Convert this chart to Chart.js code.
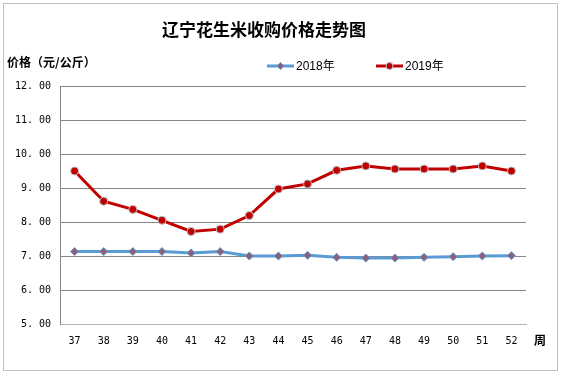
<!DOCTYPE html>
<html>
<head>
<meta charset="utf-8">
<script src="https://cdn.jsdelivr.net/npm/chart.js@4/dist/chart.umd.min.js"></script>
<style>
html,body{margin:0;padding:0;background:#fff;}
#wrap{width:562px;height:374px;position:relative;}
</style>
</head>
<body>
<div id="wrap"><canvas id="c" width="562" height="374"></canvas></div>
<script>
const weeks = ['37','38','39','40','41','42','43','44','45','46','47','48','49','50','51','52'];
const price2018 = [7.13,7.13,7.13,7.13,7.09,7.13,7.00,7.00,7.02,6.96,6.94,6.94,6.96,6.98,7.00,7.01];
const price2019 = [9.50,8.61,8.37,8.05,7.72,7.79,8.19,8.97,9.12,9.52,9.65,9.56,9.56,9.56,9.65,9.50];
const seriesNames = ['2018年','2019年'];
const titleText = '辽宁花生米收购价格走势图';
const yAxisName = '价格（元/公斤）';
const xAxisName = '周';

const mono = '"DejaVu Sans Mono", "Liberation Mono", monospace';
const cjk = '"Noto Sans CJK SC", "Noto Sans", sans-serif';

const decor = {
  id: 'decor',
  beforeDraw(chart) {
    const ctx = chart.ctx;
    ctx.save();
    ctx.fillStyle = '#fff';
    ctx.fillRect(0, 0, chart.width, chart.height);
    ctx.strokeStyle = '#bfbfbf';
    ctx.lineWidth = 1;
    ctx.strokeRect(3.5, 3.5, 554, 367);
    ctx.restore();
  },
  afterDraw(chart) {
    const ctx = chart.ctx;
    ctx.save();
    ctx.fillStyle = '#000';
    ctx.textBaseline = 'middle';
    ctx.textAlign = 'center';
    ctx.font = 'bold 17px ' + cjk;
    ctx.fillText(titleText, 264, 30);
    ctx.textAlign = 'left';
    ctx.font = 'bold 12px ' + cjk;
    ctx.fillText(yAxisName, 7, 62);
    ctx.fillText(xAxisName, 534, 340);
    // legend
    const items = [{x: 267, ds: chart.data.datasets[0]}, {x: 376, ds: chart.data.datasets[1]}];
    items.forEach(it => {
      const y = 66;
      ctx.strokeStyle = it.ds.borderColor;
      ctx.lineWidth = 3;
      ctx.beginPath();
      ctx.moveTo(it.x, y);
      ctx.lineTo(it.x + 27, y);
      ctx.stroke();
      const cx = it.x + 13.5;
      ctx.fillStyle = it.ds.pointBackgroundColor;
      ctx.strokeStyle = it.ds.pointBorderColor;
      ctx.lineWidth = 1;
      ctx.beginPath();
      if (it.ds.pointStyle === 'rectRot') {
        const r = 3.5;
        ctx.moveTo(cx, y - r); ctx.lineTo(cx + r, y); ctx.lineTo(cx, y + r); ctx.lineTo(cx - r, y); ctx.closePath();
      } else {
        ctx.arc(cx, y, 3.5, 0, Math.PI * 2);
      }
      ctx.fill(); ctx.stroke();
      ctx.fillStyle = '#000';
      ctx.font = '12px "Liberation Sans", ' + cjk;
      ctx.textAlign = 'left';
      ctx.fillText(it.ds.label, it.x + 29, y + 1);
    });
    ctx.restore();
  }
};

new Chart(document.getElementById('c'), {
  type: 'line',
  data: {
    labels: weeks,
    datasets: [
      {
        label: seriesNames[0],
        data: price2018,
        borderColor: '#5B9BD5',
        borderWidth: 3,
        pointStyle: 'rectRot',
        pointRadius: 4,
        pointBackgroundColor: '#8E5F75',
        pointBorderColor: '#5B9BD5',
        pointBorderWidth: 1,
        tension: 0,
        fill: false
      },
      {
        label: seriesNames[1],
        data: price2019,
        borderColor: '#C00000',
        borderWidth: 3,
        pointStyle: 'circle',
        pointRadius: 4,
        pointBackgroundColor: '#C00000',
        pointBorderColor: '#BFBFBF',
        pointBorderWidth: 1,
        tension: 0,
        fill: false
      }
    ]
  },
  options: {
    responsive: false,
    animation: false,
    devicePixelRatio: 1,
    layout: { padding: { top: 86, right: 36, bottom: 0, left: 0 } },
    plugins: { legend: { display: false }, title: { display: false }, tooltip: { enabled: false } },
    scales: {
      x: {
        offset: true,
        grid: { display: false, drawTicks: false },
        border: { display: true, color: '#b3b3b3', width: 1 },
        ticks: { color: '#000', font: { family: mono, size: 10 }, padding: 11, maxRotation: 0, autoSkip: false },
        afterFit(s) { s.height = 50; }
      },
      y: {
        min: 5, max: 12,
        grid: { color: '#878787', lineWidth: 1, drawTicks: false },
        border: { display: true, color: '#878787', width: 1 },
        ticks: {
          stepSize: 1, color: '#000', padding: 9,
          font: { family: mono, size: 10 },
          callback: v => v.toFixed(2).replace('.', '. ')
        },
        afterFit(s) { s.width = 60; }
      }
    }
  },
  plugins: [decor]
});
</script>
</body>
</html>
